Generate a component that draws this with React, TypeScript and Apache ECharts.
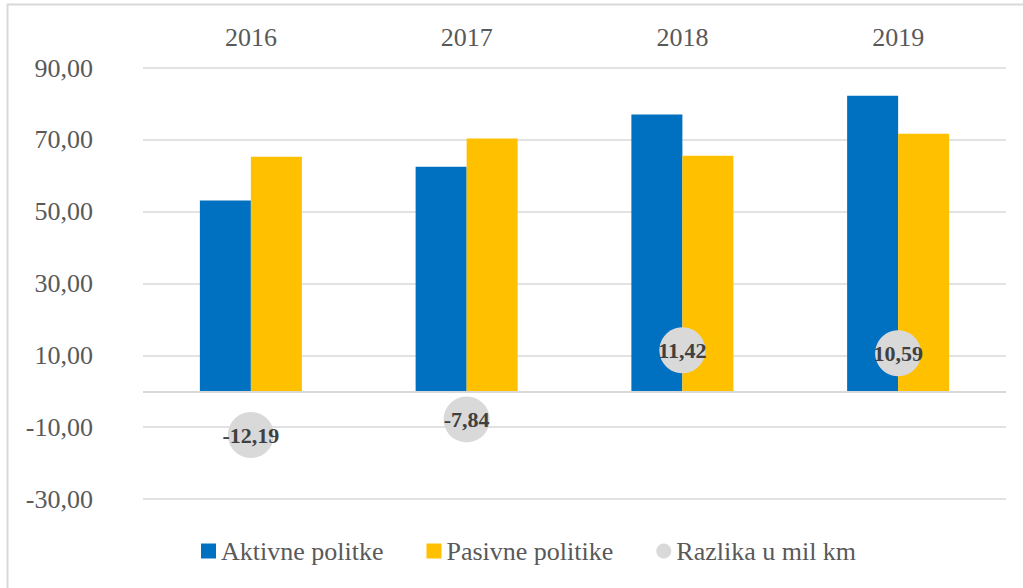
import React, { useEffect, useRef } from "react";
import * as echarts from "echarts";

const categories = ["2016", "2017", "2018", "2019"];
const aktivne = [53.1, 62.5, 77.02, 82.29];
const pasivne = [65.29, 70.34, 65.6, 71.7];
const razlika = [-12.19, -7.84, 11.42, 10.59];
const seriesNames = ["Aktivne politke", "Pasivne politike", "Razlika u mil km"];
const yMin = -30;
const yMax = 90;
const yStep = 20;

const FONT = "Liberation Serif";
const fmt = (v: number) => v.toFixed(2).replace(".", ",");

export default function App() {
  const ref = useRef<HTMLDivElement>(null);
  useEffect(() => {
    if (!ref.current) return;
    const chart = echarts.init(ref.current, undefined, { renderer: "svg" });
    const legendText = {
      fontFamily: FONT,
      fontSize: 26,
      color: "#595959",
      rich: { t: { fontFamily: FONT, fontSize: 26, color: "#595959" } },
    };
    chart.setOption({
      animation: false,
      backgroundColor: "#ffffff",
      textStyle: { fontFamily: FONT },
      graphic: [
        {
          type: "rect",
          shape: { x: 7.5, y: 4.5, width: 1200, height: 800 },
          style: { fill: "none", stroke: "#d9d9d9", lineWidth: 2 },
          silent: true,
          z: -10,
        },
      ],
      grid: { left: 143, right: 17, top: 68, bottom: 89 },
      legend: {
        left: 196,
        top: 533,
        itemWidth: 15,
        itemHeight: 15,
        itemGap: 43,
        textStyle: legendText,
        formatter: (name: string) => `{t|${name}}`,
        data: [
          { name: seriesNames[0], icon: "rect" },
          { name: seriesNames[1], icon: "rect" },
          { name: seriesNames[2], icon: "circle" },
        ],
      },
      xAxis: {
        type: "category",
        data: categories,
        position: "top",
        axisLine: { show: false, onZero: false },
        axisTick: { show: false },
        axisLabel: { color: "#595959", fontFamily: FONT, fontSize: 26, margin: 18 },
      },
      yAxis: {
        type: "value",
        min: yMin,
        max: yMax,
        interval: yStep,
        axisLine: { show: false },
        axisTick: { show: false },
        splitLine: { lineStyle: { color: "#d9d9d9", width: 1.5 } },
        axisLabel: {
          color: "#595959",
          fontFamily: FONT,
          fontSize: 26,
          margin: 50,
          formatter: (v: number) => fmt(v),
        },
      },
      series: [
        {
          name: seriesNames[0],
          type: "bar",
          data: aktivne,
          barWidth: 51,
          barGap: "0%",
          itemStyle: { color: "#0070C0" },
          markLine: {
            silent: true,
            symbol: "none",
            label: { show: false },
            lineStyle: { color: "#d9d9d9", width: 2, type: "solid" },
            data: [{ yAxis: 0 }],
          },
        },
        {
          name: seriesNames[1],
          type: "bar",
          data: pasivne,
          barWidth: 51,
          barGap: "0%",
          itemStyle: { color: "#FFC000" },
        },
        {
          name: seriesNames[2],
          type: "scatter",
          data: razlika,
          symbolSize: 46,
          z: 5,
          itemStyle: { color: "#D9D9D9", opacity: 1 },
          label: {
            show: true,
            position: "inside",
            fontFamily: FONT,
            fontWeight: "bold",
            fontSize: 22,
            color: "#404040",
            formatter: (p: any) => fmt(p.value),
          },
        },
      ],
    });
    return () => chart.dispose();
  }, []);
  return (
    <div
      ref={ref}
      style={{ position: "fixed", left: 0, top: 0, width: 1023, height: 588 }}
    />
  );
}
